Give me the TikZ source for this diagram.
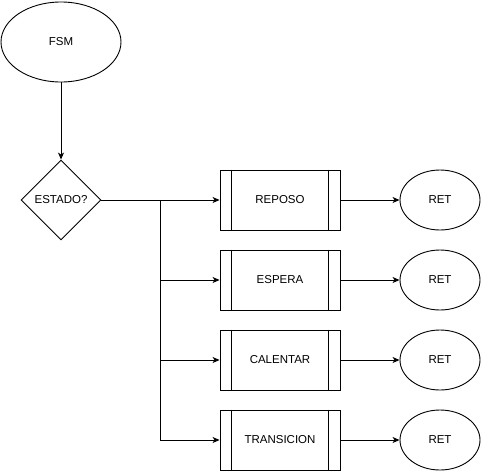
\documentclass[tikz,border=0pt]{standalone}
\usepackage{fontspec}
\setmainfont{Liberation Sans}
\usetikzlibrary{shapes.geometric,arrows.meta}
\begin{document}
\begin{tikzpicture}[x=1pt,y=-1pt,
  every node/.style={font=\fontsize{11.5}{13}\selectfont, inner sep=0pt, line width=0.9pt},
  ell/.style={draw, ellipse, minimum width=120pt, minimum height=80pt},
  retell/.style={draw, ellipse, minimum width=80pt, minimum height=60pt},
  dia/.style={draw, diamond, minimum width=80pt, minimum height=80pt, aspect=1},
  proc/.style={draw, rectangle, minimum width=120pt, minimum height=60pt},
  conn/.style={line width=0.9pt, -{Stealth[length=7pt,width=6pt,inset=2pt]}},
  line/.style={line width=0.9pt}]
\useasboundingbox (0,0) rectangle (481,471);
\node[dia] (est) at (61,200) {};
\node (estt) at (61,200) {ESTADO?};
\node[ell] (fsm) at (61,42) {FSM};
\foreach \n/\t/\y in {rep/REPOSO/200, esp/ESPERA/280, cal/CALENTAR/360, tra/TRANSICION/440}{
  \node[proc] (\n) at (280,\y) {\t};
  \draw[line] ([xshift=12pt]\n.north west) -- ([xshift=12pt]\n.south west);
  \draw[line] ([xshift=-12pt]\n.north east) -- ([xshift=-12pt]\n.south east);
  \node[retell] (r\n) at (440,\y) {RET};
  \draw[conn] (\n.east) -- (r\n.west);
}
\draw[conn] (fsm.south) -- (est.north);
\draw[conn] (est.east) -- (rep.west);
\coordinate (br) at (160,200);
\draw[conn] (br) |- (esp.west);
\draw[conn] (br) |- (cal.west);
\draw[conn] (br) |- (tra.west);
\end{tikzpicture}
\end{document}
